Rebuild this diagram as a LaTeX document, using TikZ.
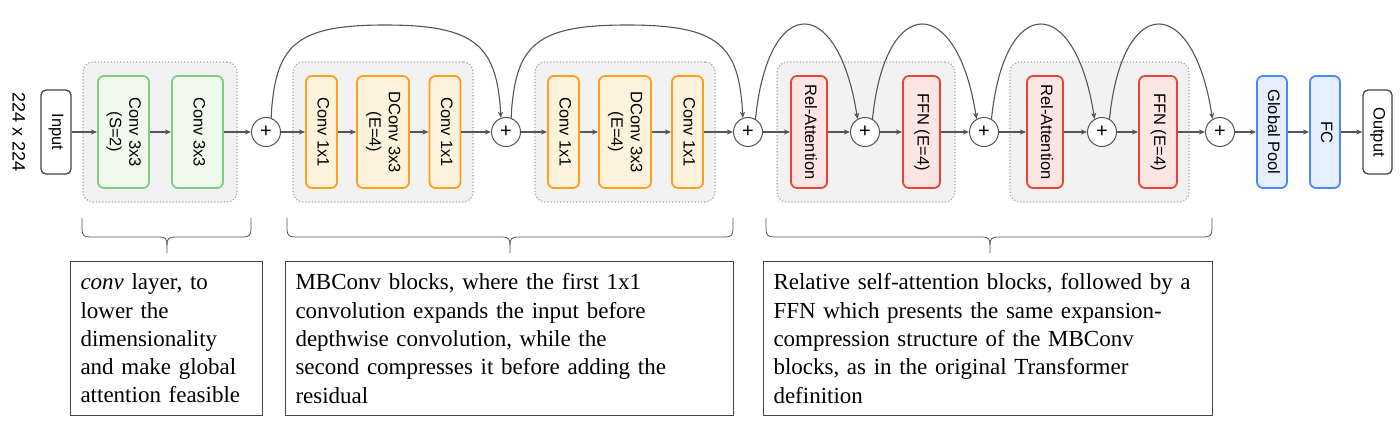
\documentclass[tikz,border=0pt]{standalone}
\usepackage{fontspec}
\setmainfont{Liberation Serif}
\setsansfont{Liberation Sans}
\usetikzlibrary{arrows.meta}
\definecolor{arrowc}{HTML}{555555}
\definecolor{grpfill}{HTML}{F2F2F2}
\definecolor{grpdraw}{HTML}{A8A8A8}
\definecolor{gdraw}{HTML}{7DCF85}
\definecolor{gfill}{HTML}{EFFAEC}
\definecolor{odraw}{HTML}{FF9F1C}
\definecolor{ofill}{HTML}{FDF3DD}
\definecolor{rdraw}{HTML}{EA4335}
\definecolor{rfill}{HTML}{FCE6E4}
\definecolor{bdraw}{HTML}{4A8AF4}
\definecolor{bfill}{HTML}{E6EFFD}
\definecolor{iodraw}{HTML}{444444}
\newcommand{\rt}[1]{\rotatebox{-90}{\begin{tabular}{@{}c@{}}#1\end{tabular}}}
\newcommand{\tl}[1]{\mbox{#1}}
\begin{document}
\begin{tikzpicture}[x=1pt,y=-1pt,
  blk/.style={rectangle, rounded corners=6pt, line width=1.8pt, inner sep=0pt,
    minimum height=112pt, font=\sffamily\fontsize{16.5}{19.5}\selectfont},
  gblk/.style={blk, draw=gdraw, fill=gfill},
  oblk/.style={blk, draw=odraw, fill=ofill},
  rblk/.style={blk, draw=rdraw, fill=rfill},
  bblk/.style={blk, draw=bdraw, fill=bfill},
  ioblk/.style={rectangle, rounded corners=5pt, line width=1.3pt, draw=iodraw, fill=white,
    inner sep=0pt, minimum width=30pt, minimum height=84pt, font=\sffamily\fontsize{16.5}{19.5}\selectfont},
  grp/.style={rectangle, rounded corners=10pt, draw=grpdraw, fill=grpfill, dotted, line width=1.2pt,
    minimum height=140pt, inner sep=0pt},
  plus/.style={circle, draw=arrowc, line width=1pt, fill=white, minimum size=29pt, inner sep=0pt,
    font=\sffamily\fontsize{20}{20}\selectfont},
  arr/.style={draw=arrowc, line width=1.1pt, -{Stealth[length=6pt,width=5pt,inset=1.5pt]}},
  tbox/.style={rectangle, draw=iodraw, line width=1pt, anchor=north west, inner xsep=10pt, inner ysep=0pt,
    align=left, minimum height=154pt, font=\fontsize{23}{28.3}\selectfont},
  brc/.style={draw=arrowc, line width=0.8pt}
]
\useasboundingbox (0,0) rectangle (1400,421);

% groups
\node[grp, minimum width=154pt] (g1) at (160,132) {};
\node[grp, minimum width=180pt] (g2) at (383,132) {};
\node[grp, minimum width=180pt] (g3) at (625,132) {};
\node[grp, minimum width=178pt] (g4) at (866,132) {};
\node[grp, minimum width=179pt] (g5) at (1099.5,132) {};

% dimension label and input
\node[font=\sffamily\fontsize{18}{20}\selectfont, inner sep=0pt] (dim) at (19,132) {\rotatebox{-90}{224 x 224}};
\node[ioblk] (inp) at (56,132) {\rt{Input}};

% stem
\node[gblk, minimum width=51pt] (c1) at (123.5,132) {\rt{Conv 3x3\\(S=2)}};
\node[gblk, minimum width=51pt] (c2) at (197.5,132) {\rt{Conv 3x3}};
\node[plus] (p1) at (266,132) {+};

% MBConv 1
\node[oblk, minimum width=31pt] (m1) at (321.5,132) {\rt{Conv 1x1}};
\node[oblk, minimum width=52pt] (d1) at (383,132) {\rt{DConv 3x3\\(E=4)}};
\node[oblk, minimum width=31pt] (m2) at (445,132) {\rt{Conv 1x1}};
\node[plus] (p2) at (506,132) {+};

% MBConv 2
\node[oblk, minimum width=31pt] (m3) at (563.5,132) {\rt{Conv 1x1}};
\node[oblk, minimum width=52pt] (d2) at (625,132) {\rt{DConv 3x3\\(E=4)}};
\node[oblk, minimum width=31pt] (m4) at (687.5,132) {\rt{Conv 1x1}};
\node[plus] (p3) at (748,132) {+};

% Transformer 1
\node[rblk, minimum width=36pt] (ra1) at (809,132) {\rt{Rel-Attention}};
\node[plus] (p4) at (865,132) {+};
\node[rblk, minimum width=37pt] (f1) at (921.5,132) {\rt{FFN (E=4)}};
\node[plus] (p5) at (984,132) {+};

% Transformer 2
\node[rblk, minimum width=36pt] (ra2) at (1045,132) {\rt{Rel-Attention}};
\node[plus] (p6) at (1102,132) {+};
\node[rblk, minimum width=38pt] (f2) at (1158,132) {\rt{FFN (E=4)}};
\node[plus] (p7) at (1220,132) {+};

% head
\node[bblk, minimum width=30pt] (gp) at (1272,132) {\rt{Global Pool}};
\node[bblk, minimum width=30pt] (fc) at (1325,132) {\rt{FC}};
\node[ioblk, minimum width=29pt] (out) at (1377.5,132) {\rt{Output}};

% main chain
\draw[arr] (inp) -- (c1);
\draw[arr] (c1) -- (c2);
\draw[arr] (c2) -- (p1);
\draw[arr] (p1) -- (m1);
\draw[arr] (m1) -- (d1);
\draw[arr] (d1) -- (m2);
\draw[arr] (m2) -- (p2);
\draw[arr] (p2) -- (m3);
\draw[arr] (m3) -- (d2);
\draw[arr] (d2) -- (m4);
\draw[arr] (m4) -- (p3);
\draw[arr] (p3) -- (ra1);
\draw[arr] (ra1) -- (p4);
\draw[arr] (p4) -- (f1);
\draw[arr] (f1) -- (p5);
\draw[arr] (p5) -- (ra2);
\draw[arr] (ra2) -- (p6);
\draw[arr] (p6) -- (f2);
\draw[arr] (f2) -- (p7);
\draw[arr] (p7) -- (gp);
\draw[arr] (gp) -- (fc);
\draw[arr] (fc) -- (out);

% skip connections
\draw[arr] (p1.70) .. controls (275,45) and (295,25) .. (385,25) .. controls (475,25) and (497,45) .. (p2.110);
\draw[arr] (p2.70) .. controls (515,45) and (535,25) .. (627,25) .. controls (719,25) and (739,45) .. (p3.110);
\draw[arr] (p3.60) .. controls (768,-7) and (838,-7) .. (p4.120);
\draw[arr] (p4.60) .. controls (885,-7) and (957,-7) .. (p5.120);
\draw[arr] (p5.60) .. controls (1004,-7) and (1075,-7) .. (p6.120);
\draw[arr] (p6.60) .. controls (1122,-7) and (1193,-7) .. (p7.120);

% braces
\draw[brc] (82,218) -- (82,229) .. controls (82,235) and (84,237) .. (90,237) -- (160,237)
  .. controls (165,237) and (167,239) .. (167,245) -- (167,253);
\draw[brc] (251,218) -- (251,229) .. controls (251,235) and (249,237) .. (243,237) -- (174,237)
  .. controls (169,237) and (167,239) .. (167,245);
\draw[brc] (287,218) -- (287,229) .. controls (287,235) and (289,237) .. (295,237) -- (503,237)
  .. controls (508,237) and (510,239) .. (510,245) -- (510,253);
\draw[brc] (733,218) -- (733,229) .. controls (733,235) and (731,237) .. (725,237) -- (517,237)
  .. controls (512,237) and (510,239) .. (510,245);
\draw[brc] (766,218) -- (766,229) .. controls (766,235) and (768,237) .. (774,237) -- (983,237)
  .. controls (988,237) and (990,239) .. (990,245) -- (990,253);
\draw[brc] (1212,218) -- (1212,229) .. controls (1212,235) and (1210,237) .. (1204,237) -- (997,237)
  .. controls (992,237) and (990,239) .. (990,245);

% description boxes
\node[tbox, text width=172pt] (t1) at (70,261) {\tl{\textit{conv} layer, to}\\\tl{lower the}\\\tl{dimensionality}\\\tl{and make global}\\\tl{attention feasible}};
\node[tbox, text width=428pt] (t2) at (285,261) {\tl{MBConv blocks, where the first 1x1}\\\tl{convolution expands the input before}\\\tl{depthwise convolution, while the}\\\tl{second compresses it before adding the}\\\tl{residual}};
\node[tbox, text width=429pt] (t3) at (763,261) {\tl{Relative self-attention blocks, followed by a}\\\tl{FFN which presents the same expansion-}\\\tl{compression structure of the MBConv}\\\tl{blocks, as in the original Transformer}\\\tl{definition}};
\end{tikzpicture}
\end{document}
